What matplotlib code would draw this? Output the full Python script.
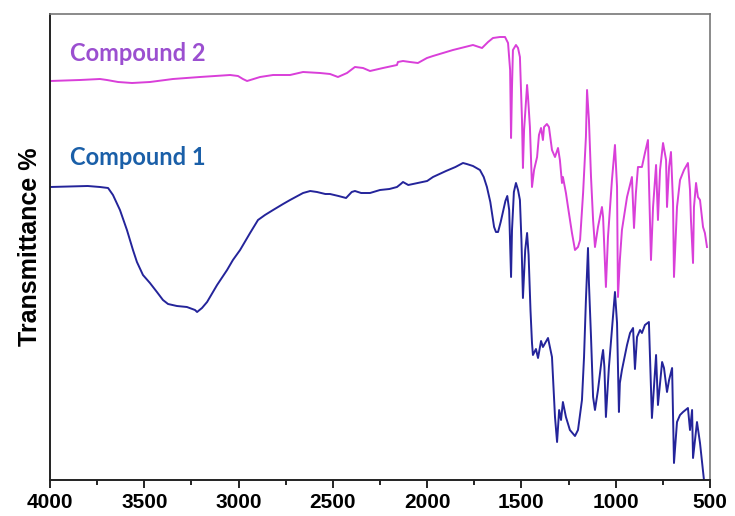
import numpy as np
import matplotlib
matplotlib.use('Agg')
import matplotlib.pyplot as plt
from matplotlib.ticker import MultipleLocator

# IR spectra of compound 1 and 2 (transmittance, arbitrary offset units)
# points are (wavenumber cm-1, transmittance)

c1_points = [
    (4000, 293), (3800, 294), (3735, 293), (3692, 292), (3666, 285), (3629, 270),
    (3592, 250), (3560, 230), (3539, 218), (3507, 205), (3470, 197), (3433, 188),
    (3401, 180), (3374, 176), (3327, 174), (3274, 173), (3231, 170), (3220, 168),
    (3194, 172), (3167, 178), (3114, 195), (3061, 210), (3030, 220), (2992, 230),
    (2939, 247), (2897, 260), (2860, 265), (2817, 270), (2764, 276), (2727, 280),
    (2658, 287), (2620, 289), (2584, 288), (2540, 286), (2515, 286), (2470, 284),
    (2430, 282), (2400, 288), (2383, 289), (2350, 287), (2303, 287), (2250, 290),
    (2200, 291), (2160, 293), (2140, 296), (2128, 298), (2100, 295), (2049, 297),
    (2000, 299), (1969, 303), (1900, 309), (1850, 313), (1810, 317), (1790, 316),
    (1757, 314), (1720, 310), (1700, 303), (1683, 293), (1665, 278), (1656, 267),
    (1645, 253), (1635, 248), (1624, 248), (1610, 258), (1598, 268), (1585, 279),
    (1575, 284), (1565, 270), (1555, 203), (1550, 250), (1540, 288), (1529, 297),
    (1518, 290), (1508, 280), (1500, 240), (1492, 182), (1480, 230), (1470, 247),
    (1462, 225), (1452, 170), (1444, 137), (1439, 125), (1423, 131), (1412, 122),
    (1396, 139), (1386, 133), (1359, 142), (1338, 123), (1322, 63), (1311, 38),
    (1300, 70), (1290, 60), (1280, 78), (1264, 63), (1243, 50), (1216, 44),
    (1200, 50), (1179, 80), (1168, 123), (1158, 180), (1147, 232), (1142, 197),
    (1131, 143), (1120, 83), (1110, 70), (1094, 90), (1073, 123), (1067, 130),
    (1060, 113), (1052, 63), (1036, 113), (1015, 163), (1004, 188), (993, 157),
    (983, 68), (978, 97), (967, 110), (940, 135), (924, 147), (908, 152),
    (898, 111), (887, 143), (871, 150), (861, 147), (845, 155), (824, 158),
    (808, 62), (786, 125), (776, 75), (754, 118), (744, 112), (728, 88),
    (717, 100), (701, 112), (691, 17), (675, 58), (659, 65), (643, 68),
    (617, 72), (606, 50), (595, 70), (590, 22), (569, 58), (553, 37), (532, 0),
]

c2_points = [
    (4000, 399), (3841, 400), (3735, 401), (3698, 400), (3639, 398), (3565, 397),
    (3470, 398), (3348, 401), (3205, 403), (3045, 405), (3003, 404), (2977, 401),
    (2955, 399), (2886, 403), (2817, 405), (2727, 405), (2658, 408), (2568, 407),
    (2515, 406), (2473, 403), (2425, 407), (2383, 413), (2340, 412), (2303, 409),
    (2234, 412), (2160, 415), (2155, 418), (2128, 419), (2091, 418), (2049, 417),
    (2001, 422), (1969, 424), (1863, 430), (1757, 435), (1709, 432), (1677, 438),
    (1651, 442), (1614, 443), (1587, 443), (1571, 437), (1560, 410), (1555, 342),
    (1550, 393), (1545, 430), (1529, 435), (1518, 432), (1508, 423), (1497, 360),
    (1492, 312), (1486, 350), (1470, 395), (1465, 383), (1455, 353), (1444, 293),
    (1433, 310), (1417, 323), (1407, 345), (1396, 352), (1386, 340), (1380, 353),
    (1365, 356), (1354, 353), (1338, 330), (1322, 323), (1306, 332), (1296, 320),
    (1285, 297), (1280, 303), (1264, 287), (1253, 273), (1232, 247), (1216, 230),
    (1200, 233), (1189, 240), (1173, 287), (1158, 343), (1152, 390), (1142, 360),
    (1131, 303), (1120, 260), (1110, 233), (1094, 253), (1073, 273), (1067, 263),
    (1052, 193), (1041, 243), (1020, 300), (1004, 335), (993, 293), (988, 183),
    (978, 220), (967, 250), (940, 283), (914, 303), (903, 252), (893, 287),
    (882, 313), (861, 313), (845, 327), (829, 340), (823, 293), (813, 220),
    (802, 273), (786, 315), (776, 260), (765, 310), (749, 337), (733, 320),
    (728, 273), (717, 313), (707, 328), (696, 277), (691, 203), (675, 273),
    (659, 300), (638, 310), (617, 317), (606, 290), (601, 260), (590, 217),
    (585, 273), (574, 297), (564, 283), (553, 280), (537, 253), (527, 247),
    (516, 233),
]

xticks = [4000, 3500, 3000, 2500, 2000, 1500, 1000, 500]

wn_c1, t_c1 = np.array(c1_points).T
wn_c2, t_c2 = np.array(c2_points).T

fig = plt.figure(figsize=(7.35, 5.16), dpi=100)
ax = fig.add_axes([50 / 735, 1 - 480 / 516, 660 / 735, 466 / 516])

ax.plot(wn_c2, t_c2, color='#d93fd9', lw=1.4, solid_joinstyle='round')
ax.plot(wn_c1, t_c1, color='#24249a', lw=1.4, solid_joinstyle='round')

ax.text(3894, 419, 'Compound 2', color='#9b4fd0', fontsize=17,
        fontweight='bold', family=['Lato', 'DejaVu Sans'])
ax.text(3894, 315, 'Compound 1', color='#1a5fa8', fontsize=17,
        fontweight='bold', family=['Lato', 'DejaVu Sans'])

ax.set_xlim(4000, 500)
ax.set_ylim(0, 466)
ax.set_xticks(xticks)
ax.xaxis.set_minor_locator(MultipleLocator(250))
ax.set_yticks([])

ax.tick_params(axis='x', which='major', direction='out', length=6, width=1.2,
               pad=3, labelsize=15)
ax.tick_params(axis='x', which='minor', direction='out', length=3.5, width=1.2)
for lab in ax.get_xticklabels():
    lab.set_fontweight('bold')
    lab.set_family(['Liberation Sans', 'DejaVu Sans'])

ax.set_ylabel('Transmittance %', fontsize=18, fontweight='bold',
              family=['Liberation Sans', 'DejaVu Sans'], labelpad=6)

for side in ['left', 'bottom']:
    ax.spines[side].set_color('#222222')
    ax.spines[side].set_linewidth(1.4)
for side in ['top', 'right']:
    ax.spines[side].set_color('#777777')
    ax.spines[side].set_linewidth(1.2)

fig.savefig('out.png', dpi=100)
